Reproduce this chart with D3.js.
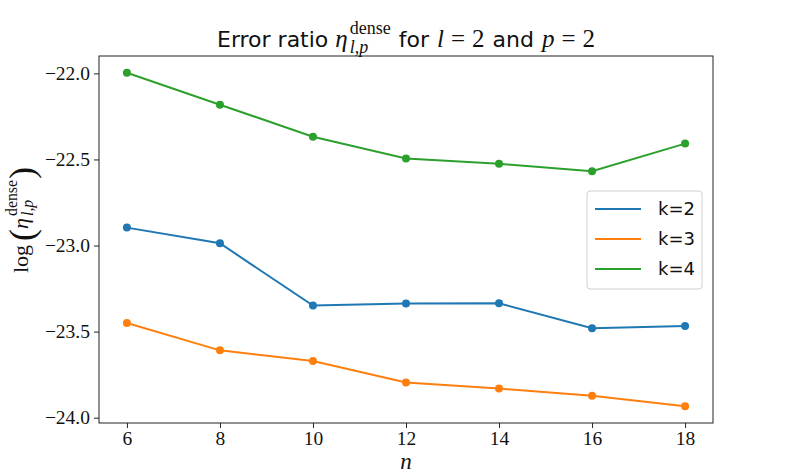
<!DOCTYPE html>
<html>
<head>
<meta charset="utf-8">
<script src="https://cdn.jsdelivr.net/npm/d3@7"></script>
<style>
  body { margin: 0; background: #fff; }
</style>
</head>
<body>
<script>
const W = 793, H = 476;
const margin = { top: 56, right: 80, bottom: 53, left: 99 };
const width = W - margin.left - margin.right,
  height = H - margin.top - margin.bottom;

// data
const nValues = [6, 8, 10, 12, 14, 16, 18];
const k2 = [-22.896, -22.987, -23.349, -23.337, -23.336, -23.481, -23.467];
const k3 = [-23.450, -23.609, -23.671, -23.796, -23.831, -23.872, -23.934];
const k4 = [-21.996, -22.182, -22.368, -22.494, -22.525, -22.569, -22.408];
const seriesNames = ["k=2", "k=3", "k=4"];
const seriesColors = ["#1f77b4", "#ff7f0e", "#2ca02c"];
const xTicks = [6, 8, 10, 12, 14, 16, 18];
const yTicks = [-22.0, -22.5, -23.0, -23.5, -24.0];

const series = [k2, k3, k4].map((vals, i) => ({
  name: seriesNames[i],
  color: seriesColors[i],
  points: vals.map((v, j) => ({ n: nValues[j], v })),
}));

const serif = "'Liberation Serif', serif";
const sans = "'DejaVu Sans', sans-serif";

const svg = d3
  .select("body")
  .append("svg")
  .attr("width", W)
  .attr("height", H);

const g = svg
  .append("g")
  .attr("transform", `translate(${margin.left},${margin.top})`);

const allVals = [].concat(k2, k3, k4);
const xPad = (d3.max(nValues) - d3.min(nValues)) * 0.05;
const yPad = (d3.max(allVals) - d3.min(allVals)) * 0.05;

const x = d3
  .scaleLinear()
  .domain([d3.min(nValues) - xPad, d3.max(nValues) + xPad])
  .range([0, width]);
const y = d3
  .scaleLinear()
  .domain([d3.min(allVals) - yPad, d3.max(allVals) + yPad])
  .range([height, 0]);

const fmtY = (d) => d3.format(".1f")(d).replace("-", "\u2212");

const xAxis = g
  .append("g")
  .attr("transform", `translate(0,${height})`)
  .call(d3.axisBottom(x).tickValues(xTicks).tickSize(5).tickPadding(3).tickFormat(d3.format("d")));
const yAxis = g
  .append("g")
  .call(d3.axisLeft(y).tickValues(yTicks).tickSize(5).tickPadding(4).tickFormat(fmtY));

[xAxis, yAxis].forEach((a) => {
  a.select(".domain").remove();
  a.selectAll("line").attr("stroke", "#222").attr("stroke-width", 1);
  a.selectAll("text")
    .attr("fill", "#111")
    .style("font-family", serif)
    .style("font-size", "19.5px");
});

// frame
g.append("rect")
  .attr("width", width)
  .attr("height", height)
  .attr("fill", "none")
  .attr("stroke", "#222")
  .attr("stroke-width", 1);

const line = d3
  .line()
  .x((d) => x(d.n))
  .y((d) => y(d.v));

const layers = g
  .selectAll(".series")
  .data(series)
  .join("g")
  .attr("class", "series");

layers
  .append("path")
  .attr("d", (d) => line(d.points))
  .attr("fill", "none")
  .attr("stroke", (d) => d.color)
  .attr("stroke-width", 2);

layers
  .selectAll("circle")
  .data((d) => d.points.map((p) => ({ ...p, color: d.color })))
  .join("circle")
  .attr("cx", (d) => x(d.n))
  .attr("cy", (d) => y(d.v))
  .attr("r", 4)
  .attr("fill", (d) => d.color);

// legend
const legend = g.append("g").attr("transform", `translate(${width - 126},${135})`);
legend
  .append("rect")
  .attr("width", 115)
  .attr("height", 98)
  .attr("rx", 3)
  .attr("fill", "#fff")
  .attr("fill-opacity", 0.8)
  .attr("stroke", "#d0d0d0");
series.forEach((s, i) => {
  const row = legend.append("g").attr("transform", `translate(0,${18 + i * 30})`);
  row.append("line")
    .attr("x1", 8).attr("x2", 54)
    .attr("stroke", s.color).attr("stroke-width", 2);
  row.append("text")
    .attr("x", 71)
    .attr("dy", "0.35em")
    .style("font-family", sans)
    .style("font-size", "18px")
    .attr("fill", "#111")
    .text(s.name);
});

// mixed text / math layout helper
function addPart(parent, p, xPos) {
  return parent
    .append("text")
    .attr("x", xPos)
    .attr("y", p.dy || 0)
    .style("font-family", p.font)
    .style("font-size", p.size + "px")
    .style("font-style", p.italic ? "italic" : "normal")
    .attr("fill", "#111")
    .text(p.text);
}
function mathText(parent, parts) {
  let xPos = 0;
  parts.forEach((p) => {
    xPos += p.pad || 0;
    if (p.stack) {
      const ws = p.stack.map((q) => addPart(parent, q, xPos).node().getComputedTextLength());
      xPos += d3.max(ws);
    } else {
      xPos += addPart(parent, p, xPos).node().getComputedTextLength();
    }
  });
  return xPos;
}

const eta = (size, up) => [
  { text: "\u03b7", font: serif, size, italic: true },
  {
    stack: [
      { text: "dense", font: serif, size: size * 0.72, dy: -size * up },
      { text: "l,p", font: serif, size: size * 0.72, italic: true, dy: size * 0.22 },
    ],
    pad: 2,
  },
];

// title
const title = svg.append("g");
const tw = mathText(title, [
  { text: "Error ratio", font: sans, size: 22 },
  ...eta(25, 0.52).map((p, i) => (i === 0 ? { ...p, pad: 7 } : p)),
  { text: "for", font: sans, size: 22, pad: 8 },
  { text: "l", font: serif, size: 25, italic: true, pad: 8 },
  { text: "=", font: serif, size: 25, pad: 7 },
  { text: "2", font: serif, size: 25, pad: 7 },
  { text: "and", font: sans, size: 22, pad: 8 },
  { text: "p", font: serif, size: 25, italic: true, pad: 8 },
  { text: "=", font: serif, size: 25, pad: 7 },
  { text: "2", font: serif, size: 25, pad: 7 },
]);
title.attr("transform", `translate(${margin.left + width / 2 - tw / 2},47)`);

// x label
svg.append("text")
  .attr("x", margin.left + width / 2)
  .attr("y", 469)
  .attr("text-anchor", "middle")
  .style("font-family", serif)
  .style("font-size", "23px")
  .style("font-style", "italic")
  .attr("fill", "#111")
  .text("n");

// y label
const ylab = svg.append("g");
const yw = mathText(ylab, [
  { text: "log", font: serif, size: 22 },
  { text: "(", font: serif, size: 36, dy: 6, pad: 4 },
  ...eta(22, 0.5),
  { text: ")", font: serif, size: 36, dy: 6, pad: 1 },
]);
ylab.attr("transform", `translate(28,${220 + yw / 2}) rotate(-90)`);
</script>
</body>
</html>
